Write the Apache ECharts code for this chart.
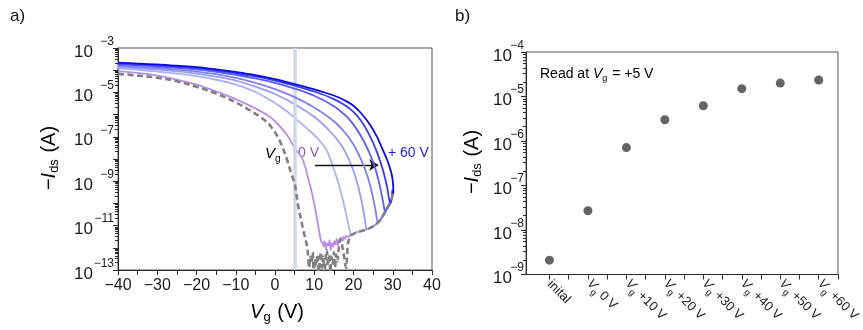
<!DOCTYPE html>
<html><head><meta charset="utf-8">
<script src="https://cdn.jsdelivr.net/npm/echarts@6/dist/echarts.min.js"></script>
<style>html,body{margin:0;padding:0;background:#fff}#c{width:863px;height:330px}</style>
</head><body><div id="c"></div>
<script>
const FONT = '"Liberation Sans", Arial, Helvetica, sans-serif';

// ---------- Panel a: transfer curves, points are [Vg (V), log10(-Ids / A)] ----------
const curveInitial = [[-40,-4.17],[-35,-4.24],[-30,-4.34],[-25,-4.5],[-20,-4.75],[-15,-5.05],[-10,-5.45],[-6,-5.85],[-3,-6.2],[-1,-6.55],[1,-7.1],[3,-8.0],[4.3,-8.75],[5,-9.1],[5.9,-10.1],[7.2,-11.2],[8.2,-11.95]];
const noiseInitial = [[8.4,-12.3],[8.7,-12.9],[9.0,-12.4],[9.3,-12.7],[9.6,-12.2],[9.9,-13.2],[10.2,-12.5],[10.5,-12.8],[10.8,-12.3],[11.1,-13.3],[11.4,-12.6],[11.7,-12.2],[12.0,-12.9],[12.3,-12.4],[12.6,-13.2],[12.9,-12.5],[13.2,-12.1],[13.5,-12.8],[13.8,-12.3],[14.1,-13.1],[14.4,-12.4],[14.7,-12.7],[15.0,-12.2],[15.3,-12.9],[15.6,-12.3],[15.9,-12.6],[16.2,-12.1],[16.6,-11.6],[17.1,-11.9],[17.6,-12.4],[18.1,-12.9],[18.6,-11.8],[19.2,-11.45]];
const curve0V  = [[-40,-4.04],[-35,-4.12],[-30,-4.24],[-25,-4.42],[-20,-4.65],[-15,-4.95],[-10,-5.3],[-5,-5.72],[-2,-6.02],[0,-6.3],[3,-6.9],[5,-7.5],[7,-8.0],[8.5,-8.9],[9.5,-9.6],[10.3,-10.3],[11,-11.0],[11.5,-11.5],[11.9,-11.75]];
const noise0V  = [[12.1,-11.75],[12.4,-11.95],[12.7,-11.7],[13.0,-12.05],[13.3,-11.8],[13.6,-11.9],[13.9,-11.65],[14.2,-12.1],[14.5,-11.8],[14.8,-11.95],[15.1,-11.7],[15.4,-11.85],[15.7,-11.6],[16.0,-11.9],[16.3,-11.7],[16.6,-11.75],[16.9,-11.55],[17.2,-11.7],[17.5,-11.5],[17.9,-11.6],[18.2,-11.45]];
const curve10V = [[-40,-3.92],[-35,-3.98],[-30,-4.06],[-25,-4.15],[-20,-4.27],[-15,-4.43],[-10,-4.65],[-5,-4.98],[0,-5.48],[3,-5.85],[5,-6.15],[8,-6.6],[11,-7.1],[13,-7.55],[14.5,-8.2],[16,-9.0],[17.3,-9.85],[18.4,-10.7],[19.3,-11.4]];
const curve20V = [[-40,-3.86],[-35,-3.91],[-30,-3.97],[-25,-4.05],[-20,-4.15],[-15,-4.29],[-10,-4.47],[-5,-4.74],[0,-5.07],[5,-5.53],[10,-6.1],[14,-6.75],[17,-7.4],[19,-8.1],[20.5,-8.8],[21.7,-9.6],[22.6,-10.4],[23.3,-11.15]];
const curve30V = [[-40,-3.8],[-35,-3.85],[-30,-3.9],[-25,-3.97],[-20,-4.06],[-15,-4.18],[-10,-4.35],[-5,-4.57],[0,-4.85],[5,-5.21],[10,-5.68],[15,-6.3],[18,-6.85],[20,-7.35],[22,-8.05],[23.6,-8.8],[24.8,-9.6],[25.6,-10.3],[26.2,-10.85]];
const curve40V = [[-40,-3.74],[-35,-3.78],[-30,-3.83],[-25,-3.89],[-20,-3.97],[-15,-4.07],[-10,-4.21],[-5,-4.37],[0,-4.57],[5,-4.83],[10,-5.15],[15,-5.62],[18,-6.05],[20,-6.45],[22,-7.0],[24,-7.7],[25.5,-8.4],[26.7,-9.2],[27.5,-9.9],[28.1,-10.4]];
const curve50V = [[-40,-3.7],[-35,-3.74],[-30,-3.78],[-25,-3.84],[-20,-3.91],[-15,-4.01],[-10,-4.14],[-5,-4.28],[0,-4.47],[5,-4.7],[10,-4.96],[15,-5.3],[18,-5.6],[20,-5.88],[22,-6.3],[24,-6.9],[26,-7.7],[27.5,-8.5],[28.6,-9.3],[29.4,-10.0]];
const curve60V = [[-40,-3.66],[-35,-3.7],[-30,-3.74],[-25,-3.8],[-20,-3.86],[-15,-3.96],[-10,-4.08],[-5,-4.22],[0,-4.4],[5,-4.63],[10,-4.86],[15,-5.14],[18,-5.38],[20,-5.6],[22,-5.95],[24,-6.4],[26,-7.0],[27.5,-7.6],[28.7,-8.1],[29.6,-8.6],[30.05,-9.05],[30.15,-9.55]];
const floorRise = [[18.5,-11.5],[19.5,-11.42],[20.5,-11.33],[21.5,-11.27],[22.5,-11.22],[23.5,-11.16],[24.5,-11.08],[25.5,-10.97],[26.3,-10.85],[27,-10.7],[27.7,-10.5],[28.3,-10.3],[28.9,-10.12],[29.4,-9.95],[29.8,-9.75],[30,-9.4]];
const sweepNames  = ['0 V','+10 V','+20 V','+30 V','+40 V','+50 V','+60 V'];
const sweepColors = ['#b98de6','#aab2f6','#9a9ef3','#7f80ee','#5d5ff0','#3a3ced','#0a0ae6'];
const xTicksA = [-40,-30,-20,-10,0,10,20,30,40];
const readGateV = 5;

// ---------- Panel b: current read at Vg = +5 V ----------
const categoriesB = ['inital','0 V','+10 V','+20 V','+30 V','+40 V','+50 V','+60 V'];
const valuesB = [2.1e-9, 2.7e-8, 7.1e-7, 3.0e-6, 6.2e-6, 1.5e-5, 2.0e-5, 2.35e-5];

// ---------- helpers ----------
const toPts = arr => arr.map(p => [p[0], Math.pow(10, p[1])]);
function withFloor(arr, noise) {
  let pts = arr.concat(noise || []);
  const last = pts[pts.length - 1][0];
  return pts.concat(floorRise.filter(p => p[0] > last));
}
const expOf = v => Math.round(Math.log10(v));
const supText = e => '{b|10}{s|' + (e < 0 ? '\u2212' : '') + Math.abs(e) + '}';
const minusFmt = v => (v < 0 ? '\u2212' + Math.abs(v) : String(v));
const AX = '#2a2a2a';
const supRich = (w) => ({
  b: { fontFamily: FONT, fontSize: 17, color: '#1a1a1a', verticalAlign: 'bottom', padding: [8, 0, 0, 0] },
  s: { fontFamily: FONT, fontSize: 12, color: '#1a1a1a', verticalAlign: 'top', width: w }
});
const subRich = (size, subSize, drop, color) => ({
  n: { fontFamily: FONT, fontSize: size, color: color, verticalAlign: 'top' },
  i: { fontFamily: FONT, fontSize: size, fontStyle: 'italic', color: color, verticalAlign: 'top' },
  s: { fontFamily: FONT, fontSize: subSize, color: color, verticalAlign: 'top', padding: [drop, 1, 0, 0] }
});

const sweepArrays = [curve0V, curve10V, curve20V, curve30V, curve40V, curve50V, curve60V];
const series = [];
series.push({
  type: 'line', xAxisIndex: 0, yAxisIndex: 0, data: [], z: 1, silent: true,
  markLine: {
    silent: true, symbol: 'none', animation: false, label: { show: false },
    data: [{ xAxis: readGateV, lineStyle: { color: '#cbd9ea', width: 3.5, type: 'solid' } }]
  }
});
sweepArrays.forEach((arr, i) => {
  series.push({
    name: sweepNames[i], type: 'line', xAxisIndex: 0, yAxisIndex: 0, z: 2 + i,
    data: toPts(withFloor(arr, i === 0 ? noise0V : null)),
    showSymbol: false, smooth: 0.35,
    lineStyle: { color: sweepColors[i], width: 1.8 }
  });
});
series.push({
  name: 'initial', type: 'line', xAxisIndex: 0, yAxisIndex: 0, z: 10,
  data: toPts(withFloor(curveInitial, noiseInitial)),
  showSymbol: false, smooth: 0.35,
  lineStyle: { color: '#808080', width: 2.6, type: [6, 3.5] }
});
series.push({
  type: 'line', xAxisIndex: 0, yAxisIndex: 0, data: [], z: 11, silent: true,
  markLine: {
    silent: true, animation: false, symbol: ['none', 'arrow'], symbolSize: 9, label: { show: false },
    lineStyle: { color: '#111', width: 1.4, type: 'solid' },
    data: [[{ coord: [10.2, Math.pow(10, -8.27)] }, { coord: [26.3, Math.pow(10, -8.27)] }]]
  }
});
series.push({
  type: 'scatter', xAxisIndex: 1, yAxisIndex: 1, z: 5,
  data: valuesB.map((v, i) => [i, v]),
  symbolSize: 9, itemStyle: { color: '#3d3d3d' }
});

const GA = { left: 118, top: 48, width: 314, height: 222 };
const GB = { left: 526, top: 52, width: 318, height: 222.5 };

const chart = echarts.init(document.getElementById('c'), null, { renderer: 'canvas' });
chart.setOption({
  animation: false,
  backgroundColor: '#fff',
  textStyle: { fontFamily: FONT },
  grid: [
    Object.assign({ show: true, borderColor: '#555', borderWidth: 1, backgroundColor: 'transparent' }, GA),
    Object.assign({ show: true, borderColor: '#555', borderWidth: 1, backgroundColor: 'transparent' }, GB)
  ],
  xAxis: [
    { type: 'value', gridIndex: 0, min: -40, max: 40,
      axisLine: { show: true, onZero: false, lineStyle: { color: AX, width: 1 } },
      axisTick: { show: true, inside: false, length: 5, lineStyle: { color: AX }, customValues: [-40,-35,-30,-25,-20,-15,-10,-5,0,5,10,15,20,25,30,35,40] },
      axisLabel: { customValues: xTicksA, formatter: minusFmt, fontFamily: FONT, fontSize: 16, color: '#1a1a1a', margin: 8 },
      splitLine: { show: false } },
    { type: 'value', gridIndex: 1, min: -0.61, max: 7.5,
      axisLine: { show: true, onZero: false, lineStyle: { color: AX, width: 1 } },
      axisTick: { show: true, inside: false, length: 5, lineStyle: { color: AX }, customValues: [0,0.5,1,1.5,2,2.5,3,3.5,4,4.5,5,5.5,6,6.5,7,7.5] },
      axisLabel: { customValues: [0,1,2,3,4,5,6,7], rotate: -45, margin: 8,
        formatter: v => { const i = Math.round(v); return i === 0 ? '{t|' + categoriesB[0] + '}' : '{i|V}{s|g}{t| ' + categoriesB[i] + '}'; },
        rich: {
          t: { fontFamily: FONT, fontSize: 13, color: '#1a1a1a', verticalAlign: 'top' },
          i: { fontFamily: FONT, fontSize: 13, fontStyle: 'italic', color: '#1a1a1a', verticalAlign: 'top' },
          s: { fontFamily: FONT, fontSize: 9, color: '#1a1a1a', verticalAlign: 'top', padding: [7, 0, 0, 0] }
        } },
      splitLine: { show: false } }
  ],
  yAxis: [
    { type: 'log', logBase: 10, gridIndex: 0, min: 1e-13, max: 1e-3, interval: 1, splitNumber: 10,
      axisLine: { show: true, onZero: false, lineStyle: { color: AX, width: 1 } },
      axisTick: { show: true, inside: false, length: 5, lineStyle: { color: AX } },
      minorTick: { show: true, splitNumber: 8, length: 3, lineStyle: { color: AX } },
      axisLabel: { showMinLabel: true, showMaxLabel: true, margin: 4, rich: supRich(21),
        formatter: v => { const e = expOf(v); return (Math.abs(e) % 2 === 1) ? supText(e) : ''; } },
      splitLine: { show: false }, minorSplitLine: { show: false } },
    { type: 'log', logBase: 10, gridIndex: 1, min: 1e-9, max: 1e-4, interval: 1, splitNumber: 5,
      axisLine: { show: true, onZero: false, lineStyle: { color: AX, width: 1 } },
      axisTick: { show: true, inside: false, length: 5, lineStyle: { color: AX } },
      minorTick: { show: true, splitNumber: 8, length: 3, lineStyle: { color: AX } },
      axisLabel: { showMinLabel: true, showMaxLabel: true, margin: 2, rich: supRich(12),
        formatter: v => supText(expOf(v)) },
      splitLine: { show: false }, minorSplitLine: { show: false } }
  ],
  series: series,
  graphic: [
    { type: 'text', left: 10, top: 8, style: { text: 'a)', font: '17px ' + FONT, fill: '#111' } },
    { type: 'text', left: 455, top: 8, style: { text: 'b)', font: '17px ' + FONT, fill: '#111' } },
    { type: 'text', x: 50, y: 158, rotation: Math.PI / 2, style: {
        text: '{n|\u2212}{i|I}{s|ds}{n| (A)}', align: 'center', verticalAlign: 'middle', rich: subRich(20, 13, 9, '#111') } },
    { type: 'text', x: 277, y: 313, style: {
        text: '{i|V}{s|g}{n| (V)}', align: 'center', verticalAlign: 'middle', rich: subRich(20, 13, 9, '#111') } },
    { type: 'text', x: 473, y: 162, rotation: Math.PI / 2, style: {
        text: '{n|\u2212}{i|I}{s|ds}{n| (A)}', align: 'center', verticalAlign: 'middle', rich: subRich(20, 13, 9, '#111') } },
    { type: 'text', x: 265, y: 155, style: {
        text: '{i|V}{s|g}', align: 'left', verticalAlign: 'middle', rich: subRich(15, 10, 8, '#111') } },
    { type: 'text', x: 298, y: 153, style: { text: '0 V', font: '14px ' + FONT, fill: '#8a58be', align: 'left', verticalAlign: 'middle' } },
    { type: 'text', x: 388, y: 153, style: { text: '+ 60 V', font: '14px ' + FONT, fill: '#1c1ce8', align: 'left', verticalAlign: 'middle' } },
    { type: 'text', x: 540, y: 75, style: {
        text: '{n|Read at }{i|V}{s|g}{n| = +5 V}', align: 'left', verticalAlign: 'middle', rich: subRich(14, 9, 7, '#111') } }
  ]
});
</script></body></html>
